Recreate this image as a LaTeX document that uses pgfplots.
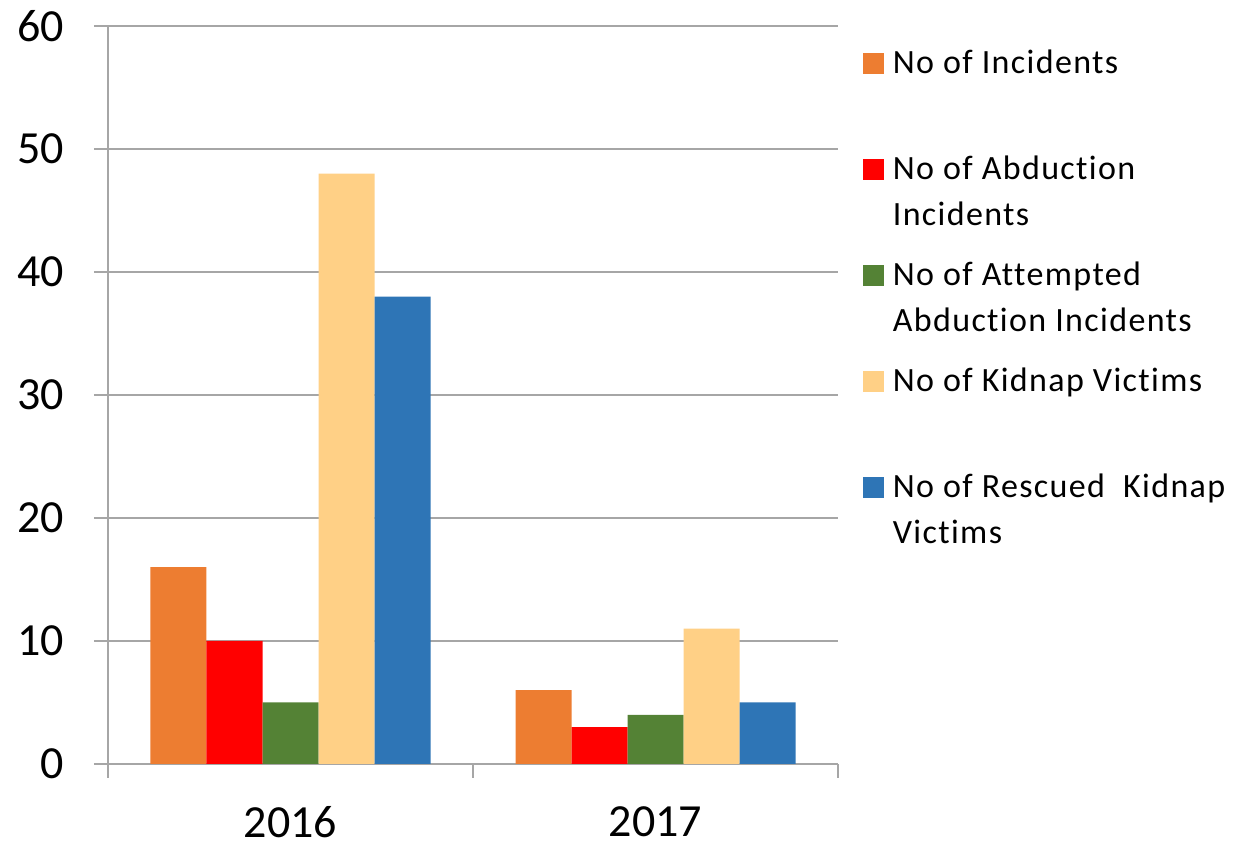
\documentclass[border=0pt]{standalone}
\usepackage{fontspec}
\setmainfont{Carlito}
\newfontfamily\legfont{Carlito}[LetterSpace=4, Ligatures=NoCommon]
\usepackage{pgfplots}
\pgfplotsset{compat=1.18}
\definecolor{cInc}{HTML}{ED7D31}
\definecolor{cAbd}{HTML}{FF0000}
\definecolor{cAtt}{HTML}{548235}
\definecolor{cKid}{HTML}{FFD086}
\definecolor{cRes}{HTML}{2E75B6}
\definecolor{axgray}{HTML}{A6A6A6}
\begin{document}
\begin{tikzpicture}
\useasboundingbox (-108pt,-86pt) rectangle (1134pt,764pt);
\begin{axis}[
  scale only axis, width=730pt, height=738pt,
  at={(0pt,0pt)}, anchor=south west,
  xmin=-0.5, xmax=1.5, ymin=0, ymax=60,
  ybar=0pt, bar width=56pt,
  xtick={0,1}, xticklabels={2016,2017},
  minor xtick={-0.5,0.5,1.5},
  ytick={0,10,20,30,40,50,60},
  axis x line*=bottom, axis y line*=left,
  axis line style={draw=axgray, line width=1.3pt},
  ymajorgrids, grid style={draw=axgray, line width=1.3pt},
  tick style={draw=axgray, line width=1.3pt},
  major x tick style={draw=none},
  minor x tick style={draw=axgray, line width=1.3pt},
  tick align=outside,
  major tick length=14pt, minor tick length=14pt,
  /pgf/number format/assume math mode=true,
  ticklabel style={font=\fontsize{46}{55}\selectfont, text=black},
  yticklabel style={anchor=east, inner sep=0pt, xshift=-30pt},
  xticklabel style={anchor=north, inner sep=0pt, yshift=-28pt},
  legend cell align=left,
  legend style={at={(1.034,0.9675)}, anchor=north west, draw=none, fill=none,
    inner sep=0pt, outer sep=0pt, row sep=0pt, column sep=9pt,
    font=\legfont\fontsize{34}{46}\selectfont,
    nodes={inner sep=0pt, text height=24pt, text depth=82pt},
    cells={anchor=base west}},
  legend image code/.code={\fill[#1] (0pt,0pt) rectangle (21pt,21pt);},
]
\addplot[fill=cInc, draw=none] coordinates {(0,16) (1,6)};
\addlegendentry{\parbox[t]{360pt}{\raggedright No of Incidents}}
\addplot[fill=cAbd, draw=none] coordinates {(0,10) (1,3)};
\addlegendentry{\parbox[t]{360pt}{\raggedright No of Abduction\\Incidents}}
\addplot[fill=cAtt, draw=none] coordinates {(0,5) (1,4)};
\addlegendentry{\parbox[t]{360pt}{\raggedright No of Attempted\\Abduction Incidents}}
\addplot[fill=cKid, draw=none] coordinates {(0,48) (1,11)};
\addlegendentry{\parbox[t]{360pt}{\raggedright No of Kidnap Victims}}
\addplot[fill=cRes, draw=none] coordinates {(0,38) (1,5)};
\addlegendentry{\parbox[t]{360pt}{\raggedright No of Rescued~ Kidnap\\Victims}}
\end{axis}
\end{tikzpicture}
\end{document}
